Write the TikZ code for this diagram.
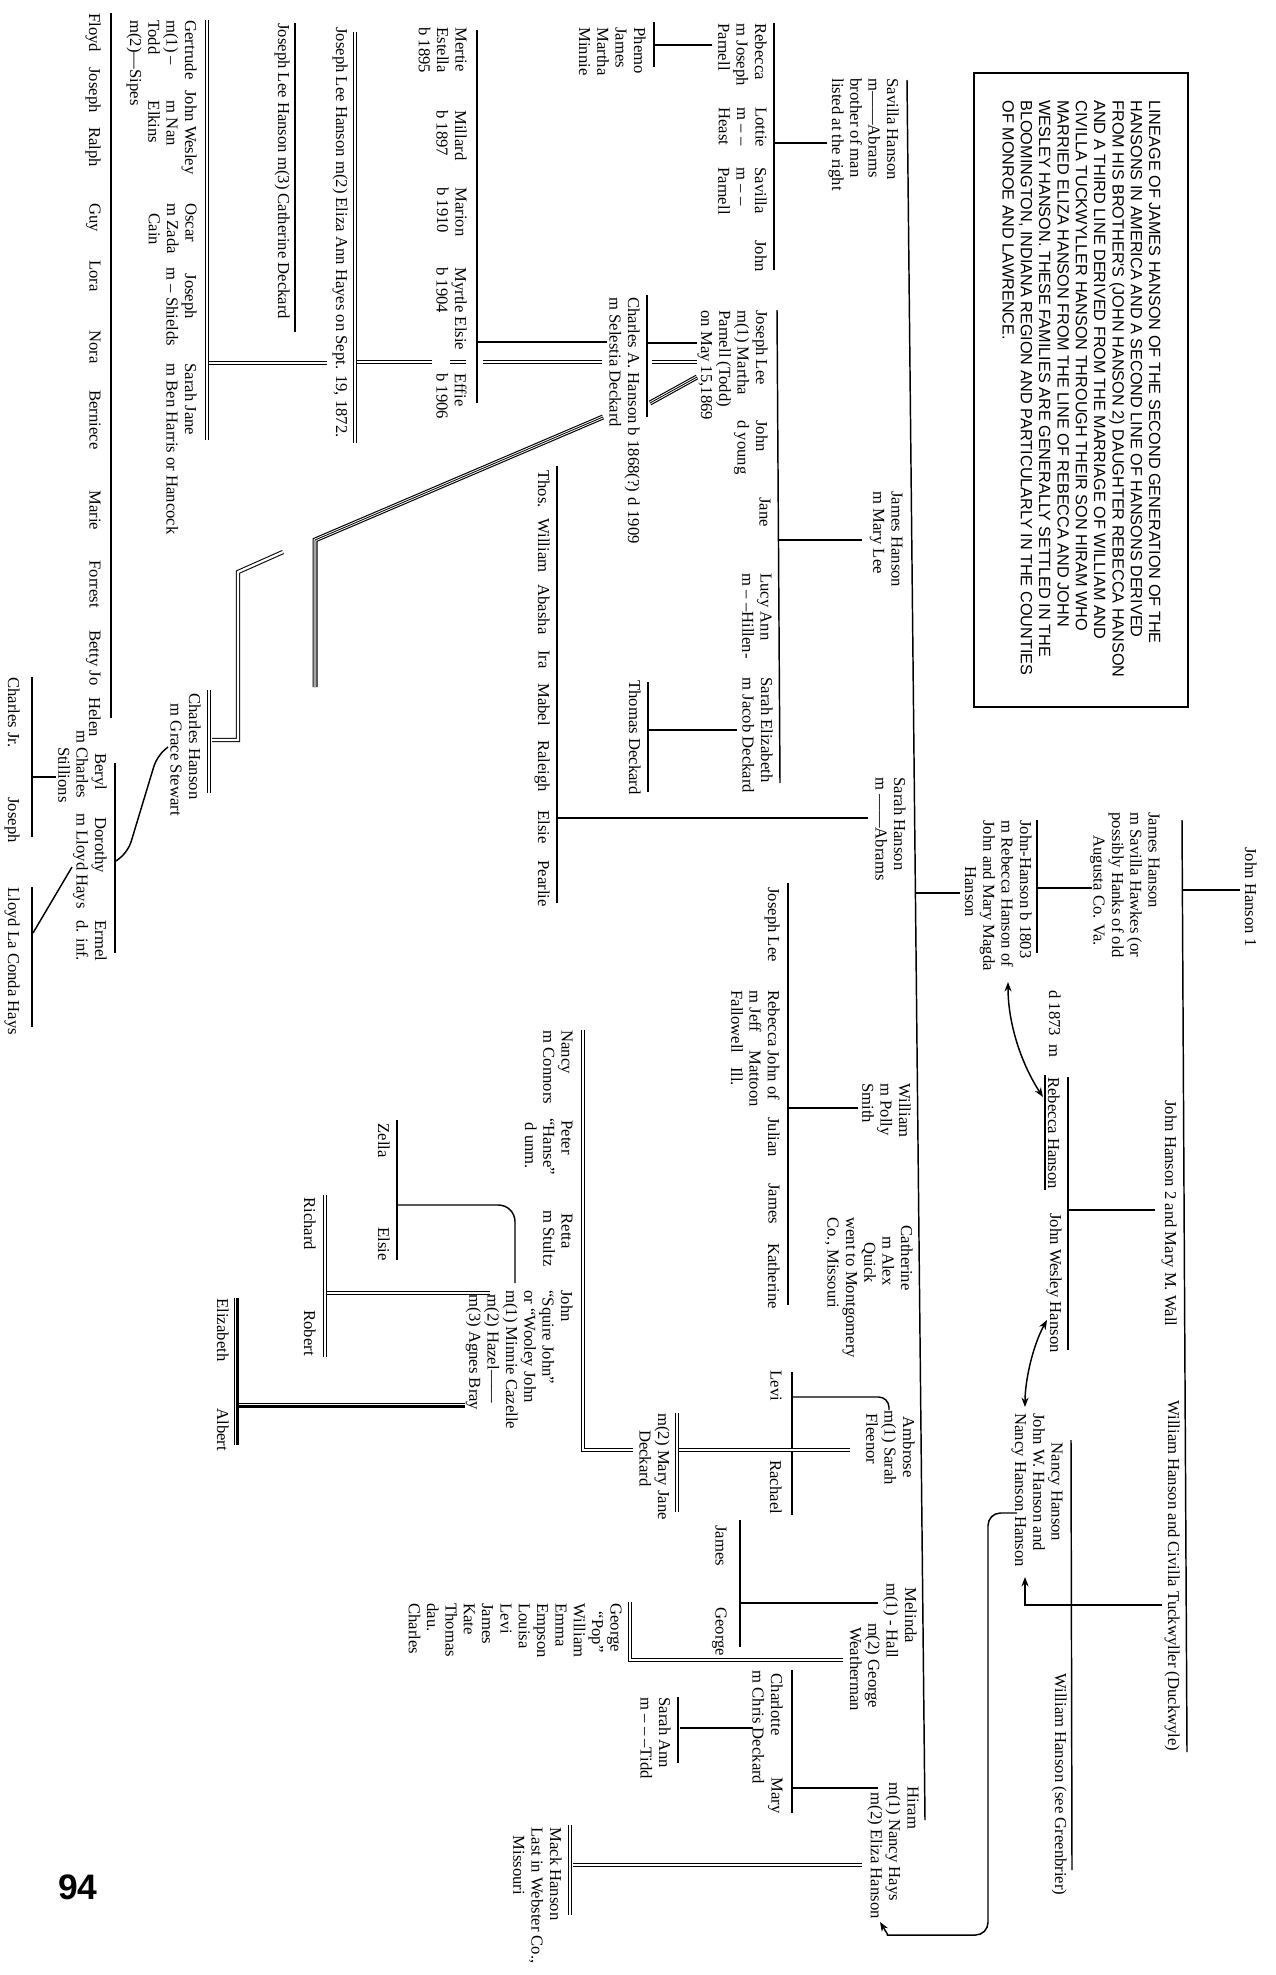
\documentclass[tikz,border=0pt]{standalone}
\usepackage{fontspec}
\setmainfont{Liberation Serif}
\newfontfamily\notefont{Liberation Sans}
\usetikzlibrary{arrows.meta}
\tikzset{
    % names on the chart
    person/.style={anchor=north west, inner sep=0pt, align=left,
                font=\fontsize{8}{8.8}\selectfont},
    % family bars and stems
    bar/.style={line width=0.7pt},
    dbl/.style={double, double distance=1.1pt, line width=0.5pt},
    trpl/.style={line width=2.4pt, postaction={draw=white, line width=1.3pt,
                postaction={draw=black, line width=0.4pt}}},
    % marriage links
    link/.style={line width=0.7pt, -{Stealth[length=4.5pt, width=3.4pt]}},
    twin/.style={line width=0.7pt,
                {Stealth[length=4.5pt, width=3.4pt]}-{Stealth[length=4.5pt, width=3.4pt]}},
    % note box
    notebox/.style={draw, line width=0.9pt},
    notetext/.style={anchor=north west, inner sep=0pt, align=left,
                font=\notefont\fontsize{7.8}{8.8}\selectfont},
}
\begin{document}
\begin{tikzpicture}[x=0.48pt, y=0.48pt]
\begin{scope}[rotate=-90, transform shape]
\fill[white] (0,0) rectangle (1975,1275);

% note box
\draw[notebox] (73,974) rectangle (707,1188);
\node[notetext] (lineage) at (100,1161) {LINEAGE OF JAMES HANSON OF THE SECOND GENERATION OF THE\\
HANSONS IN AMERICA AND A SECOND LINE OF HANSONS DERIVED\\
FROM HIS BROTHER'S (JOHN HANSON 2) DAUGHTER REBECCA HANSON\\
AND A THIRD LINE DERIVED FROM THE MARRIAGE OF WILLIAM AND\\
CIVILLA TUCKWYLLER HANSON THROUGH THEIR SON HIRAM WHO\\
MARRIED ELIZA HANSON FROM THE LINE OF REBECCA AND JOHN\\
WESLEY HANSON. THESE FAMILIES ARE GENERALLY SETTLED IN THE\\
BLOOMINGTON, INDIANA REGION AND PARTICULARLY IN THE COUNTIES\\
OF MONROE AND LAWRENCE.};

% first generations
\node[person] (jhone) at (847,1257) {John Hanson 1};
\node[person] (jhsav) at (812,1160) {James Hanson\\m Savilla Hawkes (or\\possibly Hanks of old\\\hspace*{11pt}Augusta Co. Va.};
\node[person] (jhtwo) at (1100,1177) {John Hanson 2 and Mary M. Wall};
\node[person] (whciv) at (1400,1180) {William Hanson and Civilla Tuckwyller (Duckwyle)};
\node[person] (jhb) at (820,1032) {John-Hanson b 1803\\m Rebecca Hanson of\\John and Mary Magda\\\hspace*{22pt}Hanson};
\node[person] (died) at (990,1061) {d 1873\enspace m};
\node[person] (rebh) at (1077,1060) {Rebecca Hanson};
\node[person] (jwh) at (1213,1062) {John Wesley Hanson};
\node[person] (nancyh) at (1413,1063) {\hspace*{14pt}Nancy Hanson\\John W. Hanson and\\Nancy Hanson Hanson};
\node[person] (wgreen) at (1673,1067) {William Hanson (see Greenbrier)};

\draw[bar] (890,1240) -- (890,1183);
\draw[bar] (820,1182) -- (1752,1187);
\draw[bar] (888,1092) -- (888,1037);
\draw[bar] (820,1037) -- (953,1037);
\draw[bar] (893,960) -- (893,915);
\draw[bar] (1210,1155) -- (1210,1068);
\draw[bar] (1077,1068) -- (1350,1068);
\draw[bar] (1075,1045) -- (1190,1045);
\draw[bar] (1440,1071) -- (1870,1072);
\draw[link] (1605,1162) -- (1605,1025) -- (1577,1025);
\draw[twin] (982,1008) .. controls (1025,1008) and (1065,1022) .. (1097,1043);
\draw[twin] (1320,1047) .. controls (1345,1033) and (1380,1025) .. (1407,1025);
\draw[link, rounded corners=6pt] (1513,1017) -- (1513,988) -- (1935,988) -- (1935,900) .. controls (1935,888) .. (1922,880);

% children of John Hanson b 1803
\draw[bar] (80,907) -- (1820,925);
\node[person] (savh) at (78,899) {Savilla Hanson\\m——Abrams\\brother of man\\listed at the right};
\node[person] (jml) at (491,903) {James Hanson\\m Mary Lee};
\node[person] (sarh) at (777,906) {Sarah Hanson\\m ——Abrams};
\node[person] (wps) at (1083,911) {William\\m Polly\\Smith};
\node[person] (cath) at (1217,913) {\hspace*{4pt}Catherine\\\hspace*{9pt}m Alex\\\hspace*{12pt}Quick\\went to Montgomery\\Co., Missouri};
\node[person] (ambr) at (1410,915) {\hspace*{3pt}Ambrose\\m(1) Sarah\\\hspace*{1.5pt}Fleenor};
\node[person] (meli) at (1583,917) {\hspace*{2pt}Melinda\\m(1) - Hall\\\hspace*{19pt}m(2) George\\\hspace*{21pt}Weatherman};
\node[person] (hir) at (1782,919) {\hspace*{2pt}Hiram\\m(1) Nancy Hays\\\hspace*{5pt}m(2) Eliza Hanson};

% Savilla
\draw[bar] (143,827) -- (143,775);
\draw[bar] (23,774) -- (270,774);
\node[person] (rebp) at (23,767) {Rebecca\\m Joseph\\Parnell};
\node[person] (lott) at (107,767) {Lottie\\m – –\\Heast};
\node[person] (savp) at (167,767) {Savilla\\m – –\\Parnell};
\node[person] (johns) at (240,767) {John};
\draw[bar] (45,712) -- (45,654);
\draw[bar] (22,654) -- (67,654);
\node[person] (phemo) at (27,646) {Phemo\\James\\Martha\\Minnie};

% James m Mary Lee
\draw[bar] (540,862) -- (540,779);
\draw[bar] (310,777) -- (783,780);
\node[person] (jlee) at (310,768) {Joseph Lee\\m(1) Martha\\Parnell (Todd)\\on May 15,1869};
\node[person] (jyoung) at (420,768) {John\\d young};
\node[person] (jane) at (497,771) {Jane};
\node[person] (lucy) at (573,772) {Lucy Ann\\m – –Hillen-};
\node[person] (sareliz) at (677,773) {Sarah Elizabeth\\m Jacob Deckard};
\draw[bar] (730,737) -- (730,649);
\draw[bar] (682,648) -- (792,648);
\node[person] (tdeck) at (680,641) {Thomas Deckard};
\draw[bar] (343,697) -- (343,648);
\draw[bar] (295,647) -- (417,647);
\node[person] (cah) at (297,640) {Charles A. Hanson b 1868(?) d 1909\\m Selestia Deckard};
\draw[bar] (342,607) -- (342,478);
\draw[bar] (30,477) -- (403,477);
\node[person] (mert) at (27,467) {Mertie\\Estella\\b 1895};
\node[person] (mill) at (110,467) {Millard\\b 1897};
\node[person] (mari) at (187,467) {Marion\\b 1910};
\node[person] (myrt) at (267,467) {Myrtle Elsie\\b 1904};
\node[person] (effie) at (373,467) {Effie\\b 1906};

% Joseph Lee m(2) and m(3)
\draw[dbl] (362,697) -- (362,652);
\draw[dbl] (362,602) -- (362,483);
\draw[dbl] (362,466) -- (362,450);
\draw[dbl] (362,432) -- (362,357);
\draw[dbl] (32,355) -- (443,355);
\node[person] (jlmtwo) at (27,348) {Joseph Lee Hanson m(2) Eliza Ann Hayes on Sept. 19, 1872.};
\draw[bar] (23,295) -- (332,295);
\node[person] (jlmthree) at (23,290) {Joseph Lee Hanson m(3) Catherine Deckard};
\draw[dbl] (363,327) -- (363,209);
\draw[dbl] (20,207) -- (440,207);
\node[person] (gert) at (20,197) {Gertrude\\m(1) –\\Todd\\m(2)—Sipes};
\node[person] (jwes) at (90,197) {John Wesley\\\hspace*{5pt}m Nan\\\hspace*{5pt}Elkins};
\node[person] (oscar) at (203,197) {Oscar\\m Zada\\\hspace*{5pt}Cain};
\node[person] (jos) at (267,197) {\hspace*{3pt}Joseph\\m – Shields};
\node[person] (sjane) at (363,197) {Sarah Jane\\m Ben Harris or Hancock};

\draw[bar] (13,111) -- (718,111);
\node[person] (floyd) at (13,101) {Floyd};
\node[person] (josf) at (67,101) {Joseph};
\node[person] (ralph) at (127,101) {Ralph};
\node[person] (guy) at (203,101) {Guy};
\node[person] (lora) at (260,101) {Lora};
\node[person] (nora) at (330,101) {Nora};
\node[person] (bern) at (390,101) {Berniece};
\node[person] (marie) at (490,101) {Marie};
\node[person] (forr) at (560,101) {Forrest};
\node[person] (betty) at (630,101) {Betty Jo};
\node[person] (helen) at (697,101) {Helen};

% Charles Hanson m Grace Stewart
\draw[trpl] (377,697) -- (403,650);
\draw[trpl] (417,603) -- (540,315) -- (687,315);
\draw[dbl] (552,283) -- (572,238) -- (740,238) -- (740,212);
\draw[dbl] (690,209) -- (793,209);
\node[person] (chg) at (693,201) {Charles Hanson\\\hspace*{5pt}m Grace Stewart};
\draw[bar, rounded corners=5pt] (747,168) -- (756,157) -- (852,128) -- (861,116);
\draw[bar] (763,115) -- (953,115);
\node[person] (beryl) at (730,107) {\hspace*{11pt}Beryl\\m Charles\\\hspace*{8pt}Stillions};
\node[person] (doro) at (813,107) {\hspace*{2pt}Dorothy\\m Lloyd Hays};
\node[person] (ermel) at (920,107) {Ermel\\d. inf.};
\draw[bar] (777,56) -- (777,32);
\draw[bar] (677,32) -- (837,32);
\draw[bar] (867,72) -- (933,33);
\draw[bar] (887,32) -- (1027,32);
\node[person] (cjr) at (677,20) {Charles Jr.};
\node[person] (josb) at (797,20) {Joseph};
\node[person] (lloyd) at (887,20) {Lloyd La Conda Hays};

% Sarah Hanson
\draw[bar] (818,868) -- (818,557);
\draw[bar] (466,557) -- (903,557);
\node[person] (thos) at (470,550) {Thos.};
\node[person] (wila) at (518,550) {William};
\node[person] (abas) at (584,550) {Abasha};
\node[person] (ira) at (650,550) {Ira};
\node[person] (mabel) at (683,550) {Mabel};
\node[person] (ralei) at (740,550) {Raleigh};
\node[person] (elsie) at (810,550) {Elsie};
\node[person] (pearl) at (860,550) {Pearlie};

% William m Polly Smith
\draw[bar] (1108,858) -- (1108,788);
\draw[bar] (883,788) -- (1305,788);
\node[person] (jleeb) at (887,780) {Joseph Lee};
\node[person] (rebf) at (990,780) {Rebecca\\m Jeff\\Fallowell};
\node[person] (johnm) at (1050,780) {John of\\Mattoon\\\hspace*{8pt}Ill.};
\node[person] (julian) at (1117,780) {Julian};
\node[person] (jamesw) at (1183,780) {James};
\node[person] (kath) at (1243,780) {Katherine};

% Ambrose
\draw[bar] (1372,792) -- (1515,792);
\draw[bar, rounded corners=5pt] (1397,792) -- (1397,889) -- (1410,889);
\node[person] (levi) at (1370,782) {Levi};
\node[person] (rach) at (1460,782) {Rachael};
\draw[dbl] (1450,850) -- (1450,679);
\draw[dbl] (1413,677) -- (1512,677);
\node[person] (mjane) at (1413,670) {m(2) Mary Jane\\\hspace*{8pt}Deckard};
\draw[dbl] (1030,583) -- (1450,583) -- (1450,633);
\node[person] (nancyc) at (1030,573) {Nancy\\m Connors};
\node[person] (peter) at (1118,573) {\hspace*{1pt}Peter\\“Hanse”\\\hspace*{2pt}d unm.};
\node[person] (retta) at (1210,573) {\hspace*{1.5pt}Retta\\m Stultz};
\node[person] (jsq) at (1290,573) {John\\“Squire John”\\or “Wooley John\\m(1) Minnie Cazelle\\\hspace*{2pt}m(2) Hazel——\\\hspace*{2pt}m(3) Agnes Bray};
\draw[bar, rounded corners=8pt] (1205,397) -- (1205,515) -- (1283,515);
\draw[bar] (1120,397) -- (1260,397);
\node[person] (zella) at (1123,390) {Zella};
\node[person] (elsieb) at (1227,390) {Elsie};
\draw[dbl] (1293,490) -- (1293,327);
\draw[dbl] (1195,325) -- (1357,325);
\node[person] (rich) at (1197,316) {Richard};
\node[person] (robt) at (1310,316) {Robert};
\draw[trpl] (1405,465) -- (1405,238);
\draw[trpl] (1298,236) -- (1445,236);
\node[person] (eliz) at (1298,229) {Elizabeth};
\node[person] (albt) at (1408,229) {Albert};

% Melinda
\draw[bar] (1603,878) -- (1603,740);
\draw[bar] (1520,740) -- (1647,740);
\node[person] (jamesm) at (1525,727) {James};
\node[person] (georgem) at (1607,727) {George};
\draw[dbl] (1660,843) -- (1660,630) -- (1602,630);
\node[person] (pop) at (1603,622) {George\\\hspace*{4pt}“Pop”\\William\\Emma\\Empson\\Louisa\\Levi\\James\\Kate\\Thomas\\dau.\\Charles};

% Hiram
\draw[bar] (1788,878) -- (1788,793);
\draw[bar] (1670,792) -- (1813,792);
\node[person] (charl) at (1670,783) {\hspace*{1.5pt}Charlotte\\m Chris Deckard};
\node[person] (maryh) at (1777,783) {Mary};
\draw[bar] (1728,753) -- (1728,680);
\draw[bar] (1697,678) -- (1763,678);
\node[person] (sann) at (1697,671) {Sarah Ann\\m – – –Tidd};
\draw[dbl] (1865,862) -- (1865,573);
\draw[dbl] (1825,570) -- (1915,570);
\node[person] (mack) at (1827,562) {Mack Hanson\\Last in Webster Co.,\\\hspace*{4pt}Missouri};

% page number
\node[font=\notefont\bfseries\fontsize{17}{17}\selectfont, rotate=90, inner sep=0pt] (pageno) at (1887,78) {94};
\end{scope}
\end{tikzpicture}
\end{document}
